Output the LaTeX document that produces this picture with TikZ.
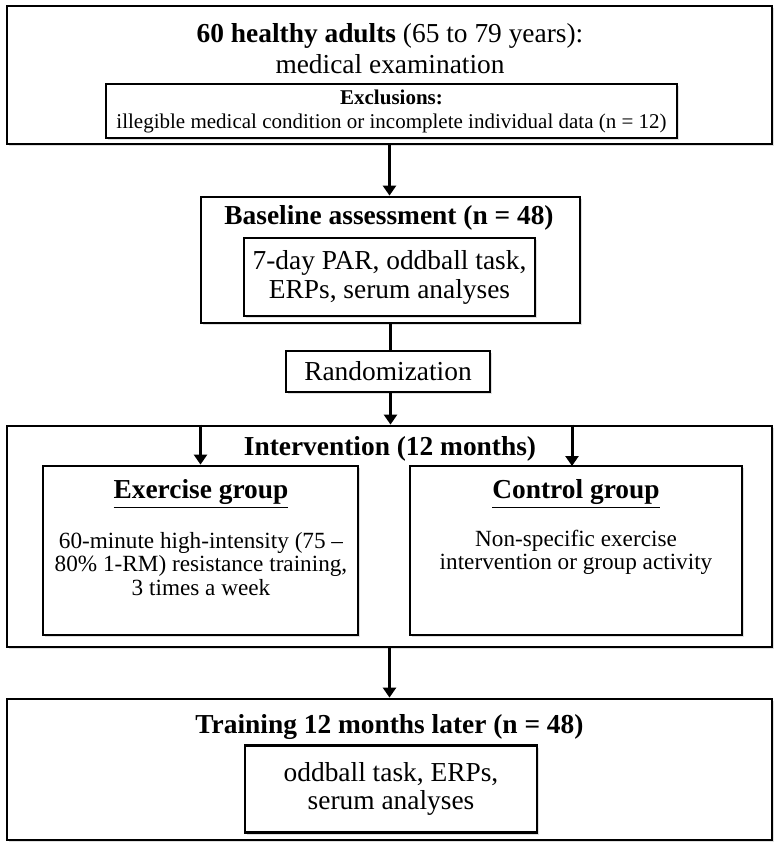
\documentclass[tikz,border=0pt]{standalone}
\usepackage{fontspec}
\setmainfont{Liberation Serif}
\usetikzlibrary{arrows.meta,shadows}

\begin{document}
\begin{tikzpicture}[x=0.5pt,y=-0.5pt,
	box/.style={draw,line width=1.4pt,fill=white,inner sep=0pt,align=center,
		drop shadow={shadow xshift=1pt,shadow yshift=-1pt,opacity=.25}},
	txt/.style={inner sep=0pt,align=center},
	big/.style={font=\fontsize{13.7}{15.5}\selectfont},
	small/.style={font=\fontsize{10.5}{12}\selectfont},
	body/.style={font=\fontsize{11.6}{11.6}\selectfont},
	arr/.style={line width=1.5pt,-{Triangle[length=5pt,width=6.5pt]}}]
\useasboundingbox (0,0) rectangle (780,850);
\path (389.5,75) node [box,minimum width=382.5pt,minimum height=69pt] (top) {}
		(390,49) node [txt,big] (toptitle) {\textbf{60 healthy adults} (65 to 79 years):\\medical examination}
		(391.5,111) node [box,small,minimum width=285.5pt,minimum height=27pt] (excl) {\textbf{Exclusions:}\\illegible medical condition or incomplete individual data (n = 12)}
		(390.5,260) node [box,minimum width=189.5pt,minimum height=63pt] (base) {}
		(389,218) node [txt,big] (basetitle) {\textbf{Baseline assessment (n = 48)}}
		(389.5,277) node [box,big,minimum width=145.5pt,minimum height=39pt] (basetests) {7-day PAR, oddball task,\\[-1pt]ERPs, serum analyses}
		(388,371.5) node [box,big,minimum width=102pt,minimum height=20.5pt] (rand) {Randomization}
		(389.5,536.5) node [box,minimum width=382.5pt,minimum height=110.5pt] (interv) {}
		(390,449) node [txt,big] (intervtitle) {\textbf{Intervention (12 months)}}
		(200.5,550.5) node [box,minimum width=157.5pt,minimum height=84.5pt] (exer) {}
		(201,494) node [txt,big] (exertitle) {\textbf{\underline{Exercise group}}}
		(201,564) node [txt,body] (exertext) {60-minute high-intensity (75 --\\80\% 1-RM) resistance training,\\3 times a week}
		(576,550.5) node [box,minimum width=166pt,minimum height=84.5pt] (ctrl) {}
		(576,494) node [txt,big] (ctrltitle) {\textbf{\underline{Control group}}}
		(576,552) node [txt,body] (ctrltext) {Non-specific exercise\\intervention or group activity}
		(389.5,769.5) node [box,minimum width=382.5pt,minimum height=70.5pt] (post) {}
		(389.5,727) node [txt,big] (posttitle) {\textbf{Training 12 months later (n = 48)}}
		(391,789) node [box,big,minimum width=146pt,minimum height=43.5pt] (posttests) {oddball task, ERPs,\\[-1.5pt]serum analyses}
		(572,466) coordinate (ctrlin)
		;
\draw [arr] (top.south) -- (top.south |- base.north);
\draw [line width=1.5pt] (base.south) -- (base.south |- rand.north);
\draw [arr] (base.south |- rand.south) -- (base.south |- interv.north);
\draw [arr] (exer.north |- interv.north) -- (exer.north);
\draw [arr] (ctrlin |- interv.north) -- (ctrlin);
\draw [arr] (interv.south) -- (interv.south |- post.north);
\end{tikzpicture}
\end{document}
